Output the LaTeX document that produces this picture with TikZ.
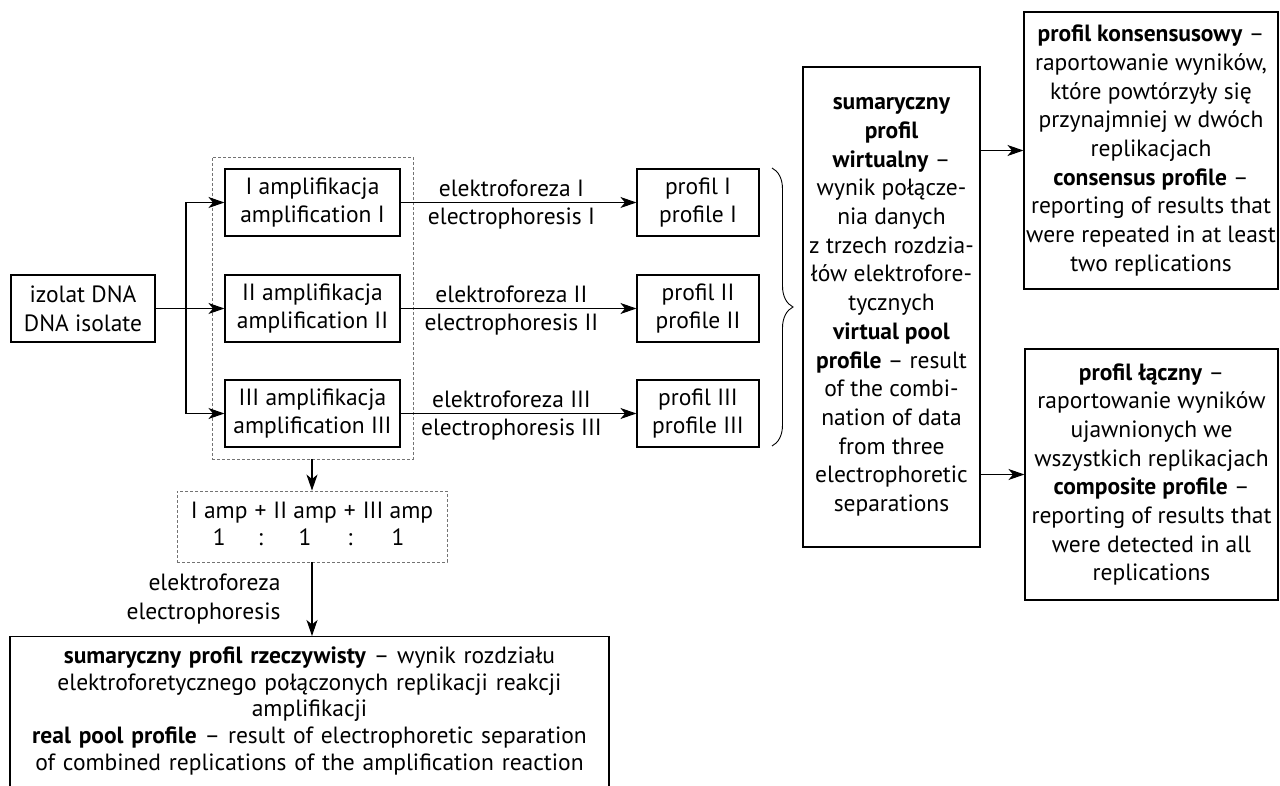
\documentclass[tikz,border=0pt]{standalone}
\usepackage{fontspec}
\setmainfont{PT Sans}
\usetikzlibrary{arrows.meta,decorations.pathreplacing}
\newcommand{\myfs}{\fontsize{23.5}{28.7}\selectfont}
\newcommand{\myfsb}{\fontsize{23.5}{26.8}\selectfont}
\AtBeginDocument{\fontsize{23.5}{28.7}\selectfont}
\begin{document}
\begin{tikzpicture}[x=1pt,y=-1pt,
  box/.style={draw, line width=1.1pt, align=center, inner sep=0pt, font=\myfs},
  dbox/.style={draw=black!55, dash pattern=on 3pt off 2pt, line width=0.9pt, inner sep=0pt},
  arr/.style={-{Stealth[length=16pt,width=11pt,inset=4.5pt]}, line width=1.1pt},
  lbl/.style={font=\myfs, inner sep=2pt},
  brc/.style={decorate, decoration={brace, amplitude=21pt}, line width=0.9pt}]
\useasboundingbox (0,0) rectangle (1280,786);
\clip (0,0) rectangle (1280,786);

\node[dbox, minimum width=201pt, minimum height=302pt] (grp) at (312.5,308) {};
\node[box, minimum width=144pt, minimum height=67pt] (iso) at (83,308.5) {izolat DNA\\DNA isolate};
\node[box, minimum width=175pt, minimum height=67pt] (a1) at (312.5,202.5) {I amplifikacja\\amplification I};
\node[box, minimum width=175pt, minimum height=67pt] (a2) at (312.5,308.5) {II amplifikacja\\amplification II};
\node[box, minimum width=175pt, minimum height=67pt] (a3) at (312.5,413.5) {III amplifikacja\\amplification III};
\node[box, minimum width=122pt, minimum height=67pt] (p1) at (698,202.5) {profil I\\profile I};
\node[box, minimum width=122pt, minimum height=67pt] (p2) at (698,308.5) {profil II\\profile II};
\node[box, minimum width=122pt, minimum height=67pt] (p3) at (698,413.5) {profil III\\profile III};
\node[box, minimum width=177pt, minimum height=480pt] (vp) at (891.5,307) {\textbf{sumaryczny}\\\textbf{profil}\\\textbf{wirtualny} --\\wynik połącze-\\nia danych\\z trzech rozdzia-\\łów elektrofore-\\tycznych\\\textbf{virtual pool}\\\textbf{profile} -- result\\of the combi-\\nation of data\\from three\\electrophoretic\\separations};
\node[box, minimum width=254pt, minimum height=277pt] (cp) at (1151,150.5) {\textbf{profil konsensusowy} --\\raportowanie wyników,\\które powtórzyły się\\przynajmniej w dwóch\\replikacjach\\\textbf{consensus profile} --\\reporting of results that\\were repeated in at least\\two replications};
\node[box, minimum width=253pt, minimum height=251pt] (cm) at (1151.5,474.5) {\textbf{profil łączny} --\\raportowanie wyników\\ujawnionych we\\wszystkich replikacjach\\\textbf{composite profile} --\\reporting of results that\\were detected in all\\replications};
\node[dbox, minimum width=270pt, minimum height=71pt, font=\fontsize{23.5}{27}\selectfont] (mix) at (312,526.5) {\begin{tabular}{@{}c@{\hspace{0.3em}}c@{\hspace{0.3em}}c@{\hspace{0.3em}}c@{\hspace{0.3em}}c@{}}I amp & + & II amp & + & III amp\\1 & : & 1 & : & 1\end{tabular}};
\node[box, font=\myfsb, text width=597pt, minimum width=599pt, anchor=north, inner xsep=1pt, inner ysep=10pt] (rp) at (309.5,636) {\textbf{sumaryczny profil rzeczywisty} -- wynik rozdziału\\elektroforetycznego połączonych replikacji reakcji\\amplifikacji\\\textbf{real pool profile} -- result of electrophoretic separation\\of combined replications of the amplification reaction\rule[-40pt]{0pt}{40pt}};

\coordinate (br) at (186,308.5);
\draw[arr] (iso.east) -- (br) |- (a1.west);
\draw[arr] (br) |- (a3.west);
\draw[arr] (iso.east) -- (a2.west);

\draw[arr] (a1.east) -- node[lbl, pos=0.47, above, yshift=3pt]{elektroforeza I} node[lbl, pos=0.47, below, yshift=-3pt]{electrophoresis I} (p1.west);
\draw[arr] (a2.east) -- node[lbl, pos=0.47, above, yshift=3pt]{elektroforeza II} node[lbl, pos=0.47, below, yshift=-3pt]{electrophoresis II} (p2.west);
\draw[arr] (a3.east) -- node[lbl, pos=0.47, above, yshift=3pt]{elektroforeza III} node[lbl, pos=0.47, below, yshift=-3pt]{electrophoresis III} (p3.west);

\draw[brc] (772,168) -- (772,446);

\draw[arr] (vp.east |- cp.west) -- (cp.west);
\draw[arr] (vp.east |- cm.west) -- (cm.west);

\draw[arr] (grp.south -| mix.north) -- (mix.north);
\draw[arr] (mix.south) -- node[lbl, anchor=east, xshift=-29pt, align=right]{elektroforeza\\electrophoresis} (mix.south |- rp.north);
\end{tikzpicture}
\end{document}
